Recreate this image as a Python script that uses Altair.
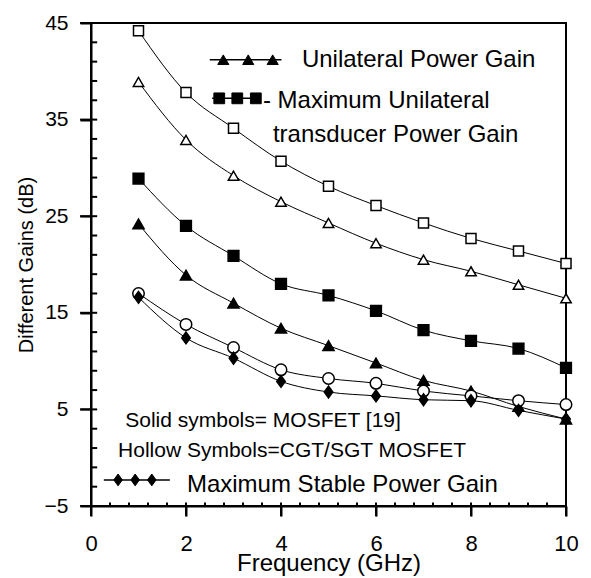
import altair as alt
import pandas as pd

# Frequency sweep (GHz)
freq = [1, 2, 3, 4, 5, 6, 7, 8, 9, 10]

# Gains in dB; hollow symbols = CGT/SGT MOSFET, solid symbols = MOSFET [19]
cgt_mut = [44.2, 37.8, 34.1, 30.7, 28.1, 26.1, 24.3, 22.7, 21.4, 20.1]
cgt_u = [38.9, 32.9, 29.2, 26.5, 24.3, 22.2, 20.5, 19.3, 17.9, 16.5]
mos_mut = [28.9, 24.0, 20.9, 18.0, 16.8, 15.2, 13.2, 12.1, 11.3, 9.3]
mos_u = [24.2, 18.9, 16.0, 13.4, 11.6, 9.8, 8.0, 6.9, 5.3, 4.0]
cgt_msg = [17.0, 13.8, 11.4, 9.1, 8.2, 7.7, 6.9, 6.4, 5.9, 5.5]
mos_msg = [16.6, 12.4, 10.3, 7.9, 6.8, 6.4, 6.0, 5.9, 4.9, 4.0]

series_names = ["cgt_mut", "cgt_u", "mos_mut", "mos_u", "cgt_msg", "mos_msg"]
series_values = [cgt_mut, cgt_u, mos_mut, mos_u, cgt_msg, mos_msg]

# Axis ticks
x_major = [0, 2, 4, 6, 8, 10]
x_minor = [0.4, 0.8, 1.2, 1.6, 2.4, 2.8, 3.2, 3.6, 4.4, 4.8, 5.2, 5.6,
           6.4, 6.8, 7.2, 7.6, 8.4, 8.8, 9.2, 9.6]
y_major = [-5, 5, 15, 25, 35, 45]
y_minor = [-3, -1, 1, 3, 7, 9, 11, 13, 17, 19, 21, 23, 27, 29, 31, 33, 37, 39, 41, 43]

# Legend text and sample symbols, placed in data units
note_text = ["Unilateral Power Gain", "- Maximum Unilateral", "transducer Power Gain",
             "Solid symbols= MOSFET [19]", "Hollow Symbols=CGT/SGT MOSFET",
             "Maximum Stable Power Gain"]
note_x = [4.44, 3.62, 3.83, 0.72, 0.57, 2.02]
note_y = [40.45, 36.2, 32.7, 3.2, 0.1, -3.55]
note_size = [24, 24, 24, 21, 21, 24]

key_series = ["mos_u", "mos_mut", "mos_msg"]
key_line_x = [(2.50, 4.01), (2.55, 3.55), (0.27, 1.66)]
key_marks_x = [(2.785, 3.31, 3.825), (2.70, 3.08, 3.47), (0.57, 0.93, 1.28)]
key_y = [41.2, 37.2, -2.3]

FONT = "Liberation Sans"
DIAMOND = "M0,-1L-0.72,0L0,1L0.72,0Z"
X_DOMAIN = [0, 10]
Y_DOMAIN = [-5, 45]

# Tick mark extents in data units (inside / outside the frame)
X_TICK_IN, X_TICK_OUT = 0.35, 1.05     # along gain axis
Y_TICK_IN, Y_TICK_OUT = 0.13, 0.23     # along frequency axis

shape_scale = alt.Scale(
    domain=series_names,
    range=["square", "triangle-up", "square", "triangle-up", "circle", DIAMOND],
)
fill_scale = alt.Scale(
    domain=series_names,
    range=["white", "white", "black", "black", "white", "black"],
)
size_scale = alt.Scale(domain=series_names, range=[100, 140, 144, 140, 81, 121])

data = pd.DataFrame(
    [
        {"freq": f, "gain": v, "series": name}
        for name, vals in zip(series_names, series_values)
        for f, v in zip(freq, vals)
    ]
)

key_lines = pd.DataFrame(
    [
        {"freq": xx, "gain": y, "series": s}
        for s, xs, y in zip(key_series, key_line_x, key_y)
        for xx in xs
    ]
)
key_marks = pd.DataFrame(
    [
        {"freq": xx, "gain": y, "series": s}
        for s, xs, y in zip(key_series, key_marks_x, key_y)
        for xx in xs
    ]
)
notes = pd.DataFrame({"freq": note_x, "gain": note_y, "text": note_text, "size": note_size})

# Tick rules: major ticks cross the frame, minor ticks point inward
y0, x0 = Y_DOMAIN[0], X_DOMAIN[0]
tick_rows = (
    [{"freq": v, "freq2": v, "gain": y0 + X_TICK_IN, "gain2": y0 - X_TICK_OUT} for v in x_major]
    + [{"freq": v, "freq2": v, "gain": y0 + X_TICK_IN, "gain2": y0} for v in x_minor]
    + [{"freq": x0 + Y_TICK_IN, "freq2": x0 - Y_TICK_OUT, "gain": v, "gain2": v} for v in y_major]
    + [{"freq": x0 + Y_TICK_IN, "freq2": x0, "gain": v, "gain2": v} for v in y_minor]
)
ticks = pd.DataFrame(tick_rows)

x_enc = alt.X(
    "freq:Q",
    scale=alt.Scale(domain=X_DOMAIN, nice=False, zero=False),
    axis=alt.Axis(
        values=x_major,
        format="d",
        title="Frequency (GHz)",
        titleFont=FONT,
        titleFontSize=24,
        titleFontWeight="normal",
        titleColor="black",
        titlePadding=-3,
        labelFont=FONT,
        labelFontSize=22,
        labelColor="black",
        labelPadding=17,
        labelFlush=False,
        labelOverlap=False,
        domainColor="black",
        domainWidth=2,
        grid=False,
        tickSize=10,
        tickWidth=2,
        tickColor="black",
    ),
)
y_enc = alt.Y(
    "gain:Q",
    scale=alt.Scale(domain=Y_DOMAIN, nice=False, zero=False),
    axis=alt.Axis(
        values=y_major,
        format="d",
        title="Different Gains (dB)",
        titleFont=FONT,
        titleFontSize=20,
        titleFontWeight="normal",
        titleColor="black",
        titlePadding=8,
        labelFont=FONT,
        labelFontSize=21,
        labelColor="black",
        labelPadding=12,
        labelFlush=False,
        labelOverlap=False,
        domainColor="black",
        domainWidth=2,
        grid=False,
        tickSize=11,
        tickWidth=2,
        tickColor="black",
    ),
)

tick_layer = alt.Chart(ticks).mark_rule(color="black", strokeWidth=2).encode(
    x=x_enc, y=y_enc, x2="freq2", y2="gain2"
)

lines = alt.Chart(data).mark_line(
    color="black", strokeWidth=1, interpolate="monotone"
).encode(x="freq:Q", y="gain:Q", detail="series:N")

points = alt.Chart(data).mark_point(
    filled=False, stroke="black", strokeWidth=1.5, opacity=1
).encode(
    x="freq:Q",
    y="gain:Q",
    shape=alt.Shape("series:N", scale=shape_scale, legend=None),
    fill=alt.Fill("series:N", scale=fill_scale, legend=None),
    size=alt.Size("series:N", scale=size_scale, legend=None),
)

key_line_layer = alt.Chart(key_lines).mark_line(color="black", strokeWidth=1.5).encode(
    x="freq:Q", y="gain:Q", detail="series:N"
)
key_mark_layer = alt.Chart(key_marks).mark_point(
    filled=False, stroke="black", strokeWidth=1, opacity=1
).encode(
    x="freq:Q",
    y="gain:Q",
    shape=alt.Shape("series:N", scale=shape_scale, legend=None),
    fill=alt.Fill("series:N", scale=fill_scale, legend=None),
    size=alt.Size("series:N", scale=size_scale, legend=None),
)

text_layer = alt.Chart(notes).mark_text(
    align="left", baseline="alphabetic", font=FONT, color="black"
).encode(
    x="freq:Q",
    y="gain:Q",
    text="text:N",
    size=alt.Size("size:Q", scale=None),
)

chart = (
    alt.layer(tick_layer, lines, points, key_line_layer, key_mark_layer, text_layer)
    .properties(
        width=475,
        height=483,
        autosize=alt.AutoSizeParams(type="none"),
        padding={"left": 91, "top": 23, "right": 25, "bottom": 72},
        background="white",
    )
    .configure_view(stroke="black", strokeWidth=2)
)

chart.save("out.html", embed_options={"renderer": "svg", "actions": False})
